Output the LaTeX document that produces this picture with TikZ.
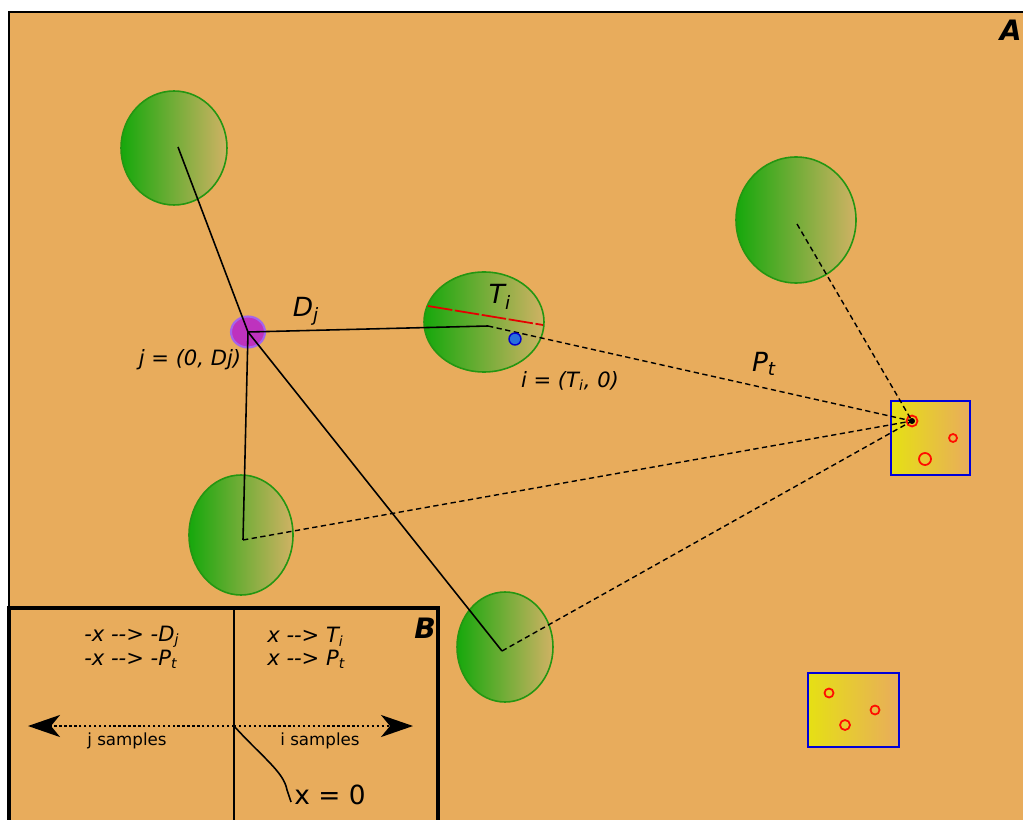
\documentclass[tikz,border=0pt]{standalone}
\usepackage{fontspec}
\setmainfont{DejaVu Sans}
\usetikzlibrary{arrows.meta}
\definecolor{sand}{RGB}{232,172,92}
\definecolor{leaf}{RGB}{22,168,12}
\definecolor{leafrim}{RGB}{36,150,18}
\definecolor{tan}{RGB}{208,178,100}
\definecolor{lemon}{RGB}{230,224,20}
\definecolor{plum}{RGB}{190,50,190}
\definecolor{lilac}{RGB}{165,100,235}
\definecolor{dotblue}{RGB}{40,110,220}

\begin{document}
\begin{tikzpicture}[x=0.02cm,y=-0.02cm,
  blob/.style={left color=leaf,right color=tan,draw=leafrim,line width=.9pt},
  site/.style={left color=lemon,right color=sand,draw=blue!85!black,line width=.9pt},
  seed/.style={draw=red!90!orange,line width=1pt},
  link/.style={line width=.9pt},
  guess/.style={line width=.8pt,dash pattern=on 3pt off 2pt},
  lbl/.style={font=\itshape\fontsize{12}{14}\selectfont,inner sep=0pt},
  big/.style={font=\itshape\fontsize{15}{17}\selectfont,inner sep=0pt},
  small/.style={font=\fontsize{9.5}{11}\selectfont,inner sep=0pt},
  tag/.style={font=\bfseries\itshape\fontsize{16}{18}\selectfont,inner sep=0pt}]

  \useasboundingbox (0,0) rectangle (1023,820);
  \fill[sand] (9,12) rectangle (1023,820);
  \draw[line width=1.4pt] (9,820) -- (9,12) -- (1023,12);
  \node[tag,anchor=east] (tagA) at (1022,30) {A};

  % green patches
  \foreach \x/\y/\a/\b in {174/148/53/57,796/220/60/63,484/322/60/50,241/535/52/60,505/647/48/55} {
    \path[blob] (\x,\y) ellipse ({\a} and {\b});
  }
  \coordinate (j) at (248,332);
  \coordinate (c1) at (178,147);
  \coordinate (c2) at (797,224);
  \coordinate (c3) at (488,326);
  \coordinate (c4) at (243,540);
  \coordinate (c5) at (502,651);
  \coordinate (p) at (912,421);
  \coordinate (ta) at (428,306);
  \coordinate (tb) at (543,325);

  % sample sites
  \path[site] (891,401) rectangle (970,475);
  \path[site] (808,673) rectangle (899,747);
  \foreach \x/\y/\r in {912/421/5.5,953/438/4,925/459/6,829/693/4.5,875/710/4.5,845/725/5} {
    \path[seed] (\x,\y) circle (\r);
  }

  \path[fill=plum,draw=lilac,line width=1.2pt] (j) ellipse (17 and 15.5);
  \draw[red!90!black,line width=1pt,dash pattern=on 14pt off 1.5pt] (ta) -- (tb);
  \draw[link] (c1) -- (j) -- (c3);
  \draw[link] (j) -- (c4);
  \draw[link] (j) -- (c5);
  \foreach \c in {c2,c3,c4,c5} {
    \draw[guess] (\c) -- (p);
  }
  \path[fill=dotblue,draw=blue!80!black,line width=.8pt] (515,339) circle (6);
  \fill (p) circle (3);

  \node[big] (Dj) at (306,311) {D\textsubscript{j}};
  \node[big] (Ti) at (500,297) {T\textsubscript{i}};
  \node[big] (Pt) at (764,364) {P\textsubscript{t}};
  \node[lbl] (jlab) at (190,360) {j = (0, Dj)};
  \node[lbl] (ilab) at (570,381) {i = (T\textsubscript{i}, 0)};

  % inset B
  \draw[line width=1.8pt,fill=sand] (9,822) -- (9,608) -- (438,608) -- (438,822);
  \draw[link] (234,608) -- (234,822);
  \node[tag] (tagB) at (425,628) {B};
  \node[lbl,anchor=west] (jl1) at (84,637) {-x -{}-> -D\textsubscript{j}};
  \node[lbl,anchor=west] (jl2) at (84,659) {-x -{}-> -P\textsubscript{t}};
  \node[lbl,anchor=west] (il1) at (267,637) {x -{}-> T\textsubscript{i}};
  \node[lbl,anchor=west] (il2) at (267,659) {x -{}-> P\textsubscript{t}};
  \coordinate (o) at (234,726);
  \coordinate (jend) at (28,726);
  \coordinate (iend) at (413,726);
  \foreach \e in {jend,iend} {
    \draw[line width=1.3pt,dash pattern=on 1.4pt off 1.4pt,-{Stealth[length=6.4mm,width=4.4mm,inset=1.8mm]}] (o) -- (\e);
  }
  \node[small] (js) at (127,741) {j samples};
  \node[small] (is) at (320,741) {i samples};
  \draw[link] (o) .. controls (262,757) and (284,772) .. (287,790) -- (291,802);
  \node[font=\fontsize{15}{17}\selectfont,inner sep=0pt] (x0) at (330,795) {x = 0};
\end{tikzpicture}
\end{document}
